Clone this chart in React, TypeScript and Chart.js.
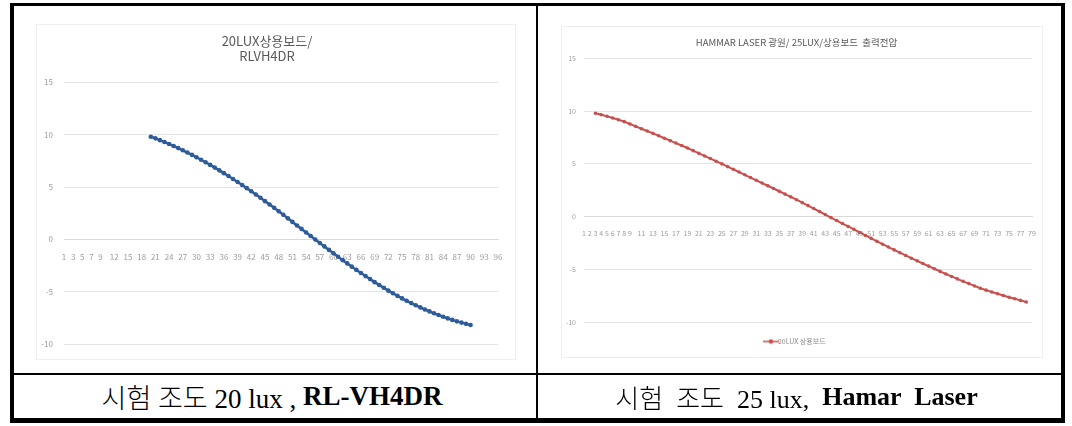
import React, { useEffect, useRef } from "react";
import { Chart, registerables } from "chart.js";

Chart.register(...registerables);

// ---------- data ----------
const LEFT_TITLE = ["20LUX상용보드/", "RLVH4DR"];
const LEFT_CATEGORIES = [
  "1","2","3","4","5","6","7","8","9","10","11","12","13","14","15","16","17","18","19","20",
  "21","22","23","24","25","26","27","28","29","30","31","32","33","34","35","36","37","38","39","40",
  "41","42","43","44","45","46","47","48","49","50","51","52","53","54","55","56","57","58","59","60",
  "61","62","63","64","65","66","67","68","69","70","71","72","73","74","75","76","77","78","79","80",
  "81","82","83","84","85","86","87","88","89","90","91","92","93","94","95","96",
];
const LEFT_SHOWN_TICKS = [
  "1","3","5","7","9","12","15","18","21","24","27","30","33","36","39","42","45","48","51","54",
  "57","60","63","66","69","72","75","78","81","84","87","90","93","96",
];
const LEFT_SERIES_NAME = "20LUX상용보드/RLVH4DR";
const LEFT_FIRST_CATEGORY = "20";
const LEFT_VALUES = [
  9.80, 9.64, 9.47, 9.29, 9.11, 8.91, 8.71, 8.50, 8.29, 8.07,
  7.84, 7.60, 7.36, 7.11, 6.85, 6.59, 6.32, 6.05, 5.77, 5.48,
  5.19, 4.89, 4.59, 4.28, 3.97, 3.65, 3.33, 3.01, 2.68, 2.35,
  2.01, 1.67, 1.33, 1.00, 0.66, 0.33, -0.01, -0.34, -0.67, -1.00,
  -1.33, -1.66, -1.98, -2.29, -2.60, -2.91, -3.21, -3.50, -3.79, -4.08,
  -4.35, -4.62, -4.89, -5.14, -5.39, -5.63, -5.86, -6.08, -6.29, -6.49,
  -6.69, -6.87, -7.05, -7.22, -7.38, -7.54, -7.68, -7.82, -7.94, -8.06,
  -8.17,
];

const RIGHT_TITLE = "HAMMAR LASER 광원/ 25LUX/상용보드  출력전압";
const RIGHT_CATEGORIES = [
  "1","2","3","4","5","6","7","8","9","10","11","12","13","14","15","16","17","18","19","20",
  "21","22","23","24","25","26","27","28","29","30","31","32","33","34","35","36","37","38","39","40",
  "41","42","43","44","45","46","47","48","49","50","51","52","53","54","55","56","57","58","59","60",
  "61","62","63","64","65","66","67","68","69","70","71","72","73","74","75","76","77","78","79",
];
const RIGHT_SHOWN_TICKS = [
  "1","2","3","4","5","6","7","8","9","11","13","15","17","19","21","23","25","27","29","31",
  "33","35","37","39","41","43","45","47","49","51","53","55","57","59","61","63","65","67","69",
  "71","73","75","77","79",
];
const RIGHT_SERIES_NAME = "20LUX 상용보드";
const RIGHT_FIRST_CATEGORY = "3";
const RIGHT_VALUES = [
  9.80, 9.66, 9.51, 9.35, 9.18, 9.00, 8.78, 8.55, 8.33, 8.11,
  7.89, 7.66, 7.43, 7.20, 6.97, 6.74, 6.50, 6.25, 6.00, 5.75,
  5.50, 5.25, 5.00, 4.74, 4.48, 4.22, 3.96, 3.70, 3.44, 3.18,
  2.92, 2.66, 2.40, 2.13, 1.87, 1.60, 1.32, 1.04, 0.76, 0.48,
  0.19, -0.10, -0.38, -0.66, -0.94, -1.22, -1.51, -1.79, -2.07, -2.35,
  -2.62, -2.89, -3.16, -3.43, -3.69, -3.95, -4.20, -4.45, -4.70, -4.95,
  -5.20, -5.45, -5.68, -5.91, -6.14, -6.36, -6.58, -6.80, -6.98, -7.15,
  -7.32, -7.49, -7.65, -7.80, -7.95, -8.10,
];

const Y_MIN = -10;
const Y_MAX = 15;
const Y_STEP = 5;

const CAPTION_LEFT_PLAIN = "시험 조도 20 lux , ";
const CAPTION_LEFT_BOLD = "RL-VH4DR";
const CAPTION_RIGHT_PLAIN = "시험  조도  25 lux,  ";
const CAPTION_RIGHT_BOLD = "Hamar  Laser";

// ---------- helpers ----------
const SANS = "'Noto Sans CJK KR', 'Noto Sans', sans-serif";
const LEFT_COLOR = "#2E5C9A";
const RIGHT_COLOR = "#C8504E";
const GRID = "#E4E4E4";
const TICK = "#9C9C9C";

function alignSeries(categories: string[], first: string, values: number[]) {
  const start = categories.indexOf(first);
  return categories.map((_, i) => {
    const k = i - start;
    return k >= 0 && k < values.length ? values[k] : null;
  });
}

function legendSwatch(color: string) {
  const c = document.createElement("canvas");
  c.width = 16;
  c.height = 6;
  const ctx = c.getContext("2d")!;
  ctx.strokeStyle = color;
  ctx.lineWidth = 1.5;
  ctx.beginPath();
  ctx.moveTo(0, 3);
  ctx.lineTo(16, 3);
  ctx.stroke();
  ctx.fillStyle = color;
  ctx.beginPath();
  ctx.arc(8, 3, 2.3, 0, Math.PI * 2);
  ctx.fill();
  return c;
}

function useChart(ref: React.RefObject<HTMLCanvasElement>, build: () => any) {
  useEffect(() => {
    if (!ref.current) return;
    const chart = new Chart(ref.current, build());
    return () => chart.destroy();
  }, []);
}

function LeftChart() {
  const ref = useRef<HTMLCanvasElement>(null);
  useChart(ref, () => ({
    type: "line",
    data: {
      labels: LEFT_CATEGORIES,
      datasets: [
        {
          label: LEFT_SERIES_NAME,
          data: alignSeries(LEFT_CATEGORIES, LEFT_FIRST_CATEGORY, LEFT_VALUES),
          borderColor: LEFT_COLOR,
          backgroundColor: LEFT_COLOR,
          borderWidth: 2.5,
          pointRadius: 2.3,
          pointBorderWidth: 0,
          tension: 0,
        },
      ],
    },
    options: {
      responsive: false,
      animation: false,
      layout: { padding: { left: 0, right: 18, top: 0, bottom: 9 } },
      plugins: {
        legend: { display: false },
        tooltip: { enabled: false },
        title: {
          display: true,
          text: LEFT_TITLE,
          color: "#595959",
          font: { family: SANS, size: 13, weight: "normal", lineHeight: 1.2 },
          padding: { top: 9, bottom: 18 },
        },
      },
      scales: {
        x: {
          type: "category",
          position: { y: 0 },
          offset: false,
          grid: { display: false },
          border: { display: true, color: "#D9D9D9" },
          ticks: {
            autoSkip: false,
            maxRotation: 0,
            minRotation: 0,
            padding: 5,
            color: TICK,
            font: { family: SANS, size: 8 },
            callback: (_v: any, i: number) =>
              LEFT_SHOWN_TICKS.includes(LEFT_CATEGORIES[i]) ? LEFT_CATEGORIES[i] : "",
          },
        },
        y: {
          min: Y_MIN,
          max: Y_MAX,
          ticks: { stepSize: Y_STEP, padding: 11, color: TICK, font: { family: SANS, size: 8 } },
          grid: { color: GRID, drawTicks: false },
          border: { display: false },
          afterFit: (s: any) => {
            s.width = 28;
          },
        },
      },
    },
  }));
  return <canvas ref={ref} width={480} height={336} />;
}

function RightChart() {
  const ref = useRef<HTMLCanvasElement>(null);
  useChart(ref, () => ({
    type: "line",
    data: {
      labels: RIGHT_CATEGORIES,
      datasets: [
        {
          label: RIGHT_SERIES_NAME,
          data: alignSeries(RIGHT_CATEGORIES, RIGHT_FIRST_CATEGORY, RIGHT_VALUES),
          borderColor: RIGHT_COLOR,
          backgroundColor: RIGHT_COLOR,
          borderWidth: 2,
          pointRadius: 1.8,
          pointBorderWidth: 0,
          tension: 0,
        },
      ],
    },
    options: {
      responsive: false,
      animation: false,
      layout: { padding: { left: 0, right: 11, top: 0, bottom: 3 } },
      plugins: {
        tooltip: { enabled: false },
        title: {
          display: true,
          text: RIGHT_TITLE,
          color: "#595959",
          font: { family: SANS, size: 9.5, weight: "normal", lineHeight: 1.2 },
          padding: { top: 11, bottom: 10 },
        },
        legend: {
          display: true,
          position: "bottom",
          labels: {
            usePointStyle: true,
            boxHeight: 6,
            padding: 16,
            color: "#8C8C8C",
            font: { family: SANS, size: 7 },
            generateLabels: (chart: any) =>
              Chart.defaults.plugins.legend.labels
                .generateLabels(chart)
                .map((it: any) => ({ ...it, pointStyle: legendSwatch(RIGHT_COLOR) })),
          },
        },
      },
      scales: {
        x: {
          type: "category",
          position: { y: 0 },
          offset: false,
          grid: { display: false },
          border: { display: true, color: "#D9D9D9" },
          ticks: {
            autoSkip: false,
            maxRotation: 0,
            minRotation: 0,
            padding: 5,
            color: TICK,
            font: { family: SANS, size: 7 },
            callback: (_v: any, i: number) =>
              RIGHT_SHOWN_TICKS.includes(RIGHT_CATEGORIES[i]) ? RIGHT_CATEGORIES[i] : "",
          },
        },
        y: {
          min: Y_MIN,
          max: Y_MAX,
          ticks: { stepSize: Y_STEP, padding: 8, color: TICK, font: { family: SANS, size: 7 } },
          grid: { color: GRID, drawTicks: false },
          border: { display: false },
          afterFit: (s: any) => {
            s.width = 23;
          },
        },
      },
    },
  }));
  return <canvas ref={ref} width={482} height={332} />;
}

const abs = (l: number, t: number, w: number, h: number): React.CSSProperties => ({
  position: "absolute",
  left: l,
  top: t,
  width: w,
  height: h,
  boxSizing: "border-box",
});

const captionStyle: React.CSSProperties = {
  display: "flex",
  alignItems: "center",
  justifyContent: "center",
  fontFamily: "'Liberation Serif', 'DejaVu Serif', 'Noto Sans CJK KR', serif",
  color: "#000",
  whiteSpace: "pre",
};

const koreanPlain: React.CSSProperties = { fontWeight: 300 };

export default function App() {
  return (
    <div style={{ position: "absolute", left: 0, top: 0, width: 1072, height: 426, background: "#fff", overflow: "hidden" }}>
      {/* chart panels */}
      <div style={{ ...abs(36, 24, 480, 336), border: "1px solid #EFEFEF" }}>
        <div style={{ position: "absolute", left: -1, top: -1 }}>
          <LeftChart />
        </div>
      </div>
      <div style={{ ...abs(561, 26, 482, 332), border: "1px solid #EFEFEF" }}>
        <div style={{ position: "absolute", left: -1, top: -1 }}>
          <RightChart />
        </div>
      </div>
      {/* captions */}
      <div style={{ ...abs(14, 375, 522, 43), ...captionStyle, fontSize: 27, paddingRight: 6 }}>
        <span style={koreanPlain}>{CAPTION_LEFT_PLAIN}</span>
        <b>{CAPTION_LEFT_BOLD}</b>
      </div>
      <div style={{ ...abs(538, 375, 523, 43), ...captionStyle, fontSize: 26, paddingRight: 6 }}>
        <span style={koreanPlain}>{CAPTION_RIGHT_PLAIN}</span>
        <b>{CAPTION_RIGHT_BOLD}</b>
      </div>
      {/* table lines */}
      <div style={{ ...abs(10, 3, 1055, 420), border: "4px solid #000", borderTopWidth: 3, borderBottomWidth: 5 }} />
      <div style={{ ...abs(536, 3, 2, 420), background: "#000" }} />
      <div style={{ ...abs(10, 373, 1055, 2), background: "#000" }} />
    </div>
  );
}
